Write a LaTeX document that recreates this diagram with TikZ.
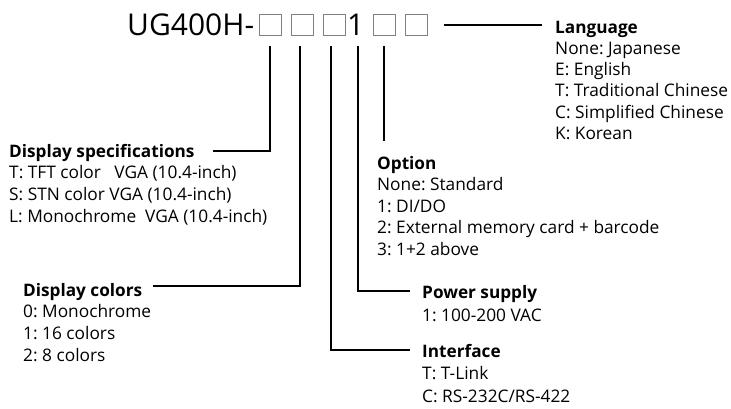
\documentclass[tikz,border=0pt]{standalone}
\usepackage{fontspec}
\setmainfont{Open Sans}
\frenchspacing
\begin{document}
\begin{tikzpicture}[x=1pt,y=-1pt,
  txt/.style={anchor=base west,inner sep=0pt,font=\fontsize{17.3}{21.3}\selectfont},
  hdr/.style={anchor=base west,inner sep=0pt,font=\fontsize{17.2}{21.3}\selectfont\bfseries},
  big/.style={anchor=base west,inner sep=0pt,font=\fontsize{30}{36}\selectfont},
  slot/.style={draw=gray,line width=0.8pt,minimum width=22pt,minimum height=21pt,inner sep=0pt,anchor=north west},
  conn/.style={line width=1.3pt}]
\useasboundingbox (0,0) rectangle (731,408);
% title
\node[big] (ug) at (127,35) {UG400H-};
\node[slot] (b1) at (259,14) {};
\node[slot] (b2) at (291,14) {};
\node[slot] (b3) at (323,14) {};
\node[big] (one) at (347,35) {1};
\node[slot] (b4) at (373,14) {};
\node[slot] (b5) at (405,14) {};
% labels
\node[hdr] (langh) at (555,33) {Language};
\foreach \t [count=\i] in {None: Japanese,E: English,T: Traditional Chinese,C: Simplified Chinese,K: Korean}
  \node[txt] (lang\i) at (555,33+21.3*\i) {\t};
\node[hdr] (dsh) at (9,157) {Display specifications};
\foreach \t [count=\i] in {T: TFT color\ \ \ VGA (10.4-inch),S: STN color VGA (10.4-inch),L: Monochrome\ \ VGA (10.4-inch)}
  \node[txt] (ds\i) at (9,157+21.8*\i) {\t};
\node[hdr] (opth) at (377,169) {Option};
\foreach \t [count=\i] in {None: Standard,1: DI/DO,2: External memory card + barcode,3: 1+2 above}
  \node[txt] (opt\i) at (377,169+21.5*\i) {\t};
\node[hdr] (dch) at (23,296) {Display colors};
\foreach \t [count=\i] in {0: Monochrome,1: 16 colors,2: 8 colors}
  \node[txt] (dc\i) at (23,296+21.8*\i) {\t};
\node[hdr] (psh) at (422,298) {Power supply};
\node[txt] (ps1) at (422,321) {1: 100-200 VAC};
\node[hdr] (ifh) at (422,357) {Interface};
\foreach \t [count=\i] in {T: T-Link,C: RS-232C/RS-422}
  \node[txt] (if\i) at (422,357+22.5*\i) {\t};
% connector coordinates
\coordinate (t1) at (270,46); \coordinate (e1) at (213,151);
\coordinate (t2) at (300,46); \coordinate (e2) at (153,286);
\coordinate (t3) at (331,46); \coordinate (e3) at (410,350);
\coordinate (t4) at (358,46); \coordinate (e4) at (410,291);
\coordinate (t5) at (384,46); \coordinate (e5) at (384,141);
\coordinate (t6) at (444,25); \coordinate (e6) at (542,25);
\draw[conn] (t1) |- (e1);
\draw[conn] (t2) |- (e2);
\draw[conn] (t3) |- (e3);
\draw[conn] (t4) |- (e4);
\draw[conn] (t5) -- (e5);
\draw[conn] (t6) -- (e6);
\end{tikzpicture}
\end{document}
